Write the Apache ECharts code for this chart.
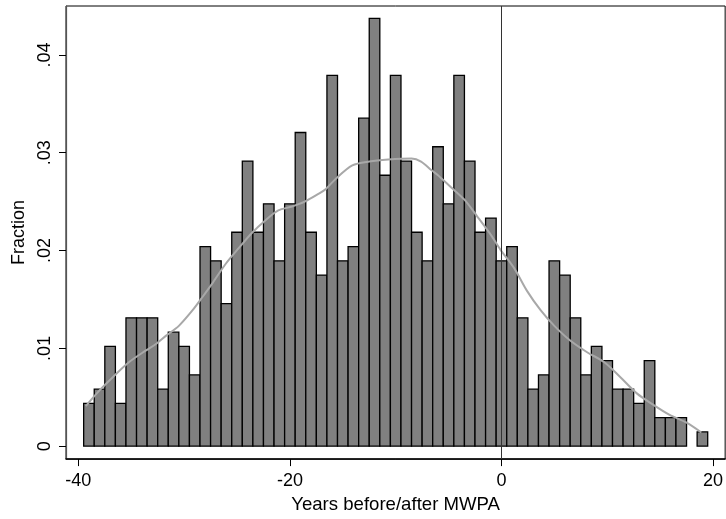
<!DOCTYPE html>
<html>
<head>
<meta charset="utf-8">
<script src="https://cdn.jsdelivr.net/npm/echarts@6/dist/echarts.min.js"></script>
<style>
html,body{margin:0;padding:0;background:#fff;}
#chart{width:726px;height:519px;}
</style>
</head>
<body>
<div id="chart"></div>
<script>
// Histogram bins (years before/after MWPA), centred on integers
var years = [-39,-38,-37,-36,-35,-34,-33,-32,-31,-30,-29,-28,-27,-26,-25,-24,-23,-22,-21,-20,
  -19,-18,-17,-16,-15,-14,-13,-12,-11,-10,-9,-8,-7,-6,-5,-4,-3,-2,-1,0,
  1,2,3,4,5,6,7,8,9,10,11,12,13,14,15,16,17,19];
var fractions = [0.00437,0.00583,0.01020,0.00437,0.01312,0.01312,0.01312,0.00583,0.01166,0.01020,
  0.00729,0.02041,0.01895,0.01458,0.02187,0.02915,0.02187,0.02478,0.01895,0.02478,
  0.03207,0.02187,0.01749,0.03790,0.01895,0.02041,0.03353,0.04373,0.02770,0.03790,
  0.02915,0.02187,0.01895,0.03061,0.02478,0.03790,0.02915,0.02187,0.02332,0.01895,
  0.02041,0.01312,0.00583,0.00729,0.01895,0.01749,0.01312,0.00729,0.01020,0.00875,
  0.00583,0.00583,0.00437,0.00875,0.00292,0.00292,0.00292,0.00146];
// Kernel density curve
var kdeX = [-39.3,-38.0,-36.7,-35.2,-33.6,-32.6,-31.7,-30.5,-29.2,-28.3,-27.3,-26.1,-24.8,-23.6,
  -22.3,-21.1,-19.8,-18.6,-17.3,-16.6,-15.7,-14.1,-12.5,-10.7,-8.5,-7.6,-6.6,-6.0,-4.8,-3.5,
  -2.3,-1.0,-0.1,1.2,2.4,3.7,5.0,6.5,8.1,9.7,11.2,12.8,14.4,15.9,17.5,18.9];
var kdeY = [0.0041,0.0057,0.0071,0.0086,0.0098,0.0105,0.0113,0.0123,0.0139,0.0152,0.0167,0.0186,
  0.0203,0.0218,0.0231,0.0241,0.0245,0.0250,0.0258,0.0263,0.0273,0.0287,0.0291,0.0293,0.0294,
  0.0291,0.0282,0.0277,0.0265,0.0252,0.0235,0.0216,0.0201,0.0182,0.0159,0.0139,0.0123,0.0108,
  0.0096,0.0086,0.0071,0.0054,0.0042,0.0032,0.0024,0.0014];
var xTicks = [-40,-20,0,20];
var yTicks = [0,0.01,0.02,0.03,0.04];
var yTickLabels = ['0','.01','.02','.03','.04'];
var xTitle = 'Years before/after MWPA';
var yTitle = 'Fraction';

var barData = years.map(function(y,i){return [y, fractions[i]];});
var kdeData = kdeX.map(function(x,i){return [x, kdeY[i]];});

var font = "'Liberation Sans', Arial, sans-serif";
var chart = echarts.init(document.getElementById('chart'), null, {renderer:'canvas'});
chart.setOption({
  animation:false,
  backgroundColor:'#fff',
  grid:{left:66, top:6, width:663, height:457, show:true, borderColor:'#000', borderWidth:1, backgroundColor:'transparent'},
  xAxis:{
    type:'value', min:-41.17, max:21.15,
    axisLine:{show:true, onZero:false, lineStyle:{color:'#000', width:1.5}},
    axisTick:{show:true, length:7, customValues:xTicks, lineStyle:{color:'#000', width:1}},
    axisLabel:{show:true, customValues:xTicks, margin:13, fontSize:18, fontFamily:font, color:'#000',
      formatter:function(v){return String(v);}},
    splitLine:{show:false},
    name:xTitle, nameLocation:'middle', nameGap:30,
    nameTextStyle:{fontSize:18.6, fontFamily:font, color:'#000'}
  },
  yAxis:{
    type:'value', min:-0.00132, max:0.045,
    axisLine:{show:true, onZero:false, lineStyle:{color:'#555', width:1.2}},
    axisTick:{show:true, length:7, customValues:yTicks, lineStyle:{color:'#000', width:1}},
    axisLabel:{show:true, customValues:yTicks, rotate:90, margin:12, fontSize:18, fontFamily:font, color:'#000',
      formatter:function(v){var i=yTicks.indexOf(v); return i>=0?yTickLabels[i]:'';}},
    splitLine:{show:false},
    name:yTitle, nameLocation:'middle', nameGap:33, nameRotate:90,
    nameTextStyle:{fontSize:18, fontFamily:font, color:'#000'}
  },
  series:[
    {
      type:'line',
      data:[],
      z:1,
      markLine:{
        silent:true, symbol:'none', animation:false,
        label:{show:false},
        lineStyle:{color:'#333', width:1, type:'solid'},
        data:[{xAxis:0}]
      }
    },
    {
      type:'custom',
      data:barData,
      encode:{x:0, y:1},
      clip:true,
      renderItem:function(params, api){
        var x = api.value(0), v = api.value(1);
        var p0 = api.coord([x-0.5, 0]);
        var p1 = api.coord([x+0.5, v]);
        return {type:'rect',
          shape:{x:p0[0], y:p1[1], width:p1[0]-p0[0], height:p0[1]-p1[1]},
          style:{fill:'#808080', stroke:'#000', lineWidth:1.3}};
      },
      z:2
    },
    {
      type:'line',
      data:kdeData,
      smooth:0.3,
      showSymbol:false,
      symbol:'none',
      lineStyle:{color:'#a8a8a8', width:2},
      z:3
    }
  ]
});
</script>
</body>
</html>
